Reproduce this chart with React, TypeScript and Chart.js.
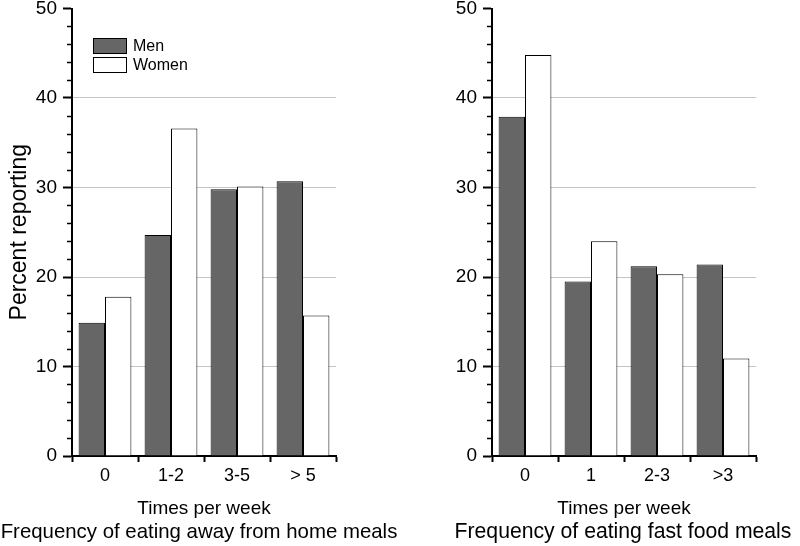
import React, { useEffect, useRef } from "react";
import { Chart, registerables } from "chart.js";

Chart.register(...registerables);

const awayCategories = ["0", "1-2", "3-5", "> 5"];
const awayMen = [14.9, 24.7, 29.8, 30.7];
const awayWomen = [17.8, 36.6, 30.1, 15.7];

const fastCategories = ["0", "1", "2-3", ">3"];
const fastMen = [37.9, 19.5, 21.2, 21.4];
const fastWomen = [44.8, 24.0, 20.3, 10.9];

const seriesLabels = ["Men", "Women"];
const yTicks = [0, 10, 20, 30, 40, 50];
const xTitle = "Times per week";
const leftTitle = "Frequency of eating away from home meals";
const rightTitle = "Frequency of eating fast food meals";
const yTitle = "Percent reporting";

const FONT = "'Liberation Sans', Arial, Helvetica, sans-serif";

const minorTicks = {
  id: "minorTicks",
  afterDraw(chart: any) {
    const s = chart.scales.y;
    const ctx = chart.ctx;
    ctx.save();
    ctx.strokeStyle = "#000";
    ctx.lineWidth = 1.5;
    for (let v = 0; v <= 50; v += 2) {
      if (v % 10 === 0) continue;
      const y = Math.round(s.getPixelForValue(v)) + 0.5;
      ctx.beginPath();
      ctx.moveTo(s.right - 5, y);
      ctx.lineTo(s.right, y);
      ctx.stroke();
    }
    ctx.restore();
  },
};

const subTitle = {
  id: "subTitle",
  afterDraw(chart: any, _args: any, opts: any) {
    if (!opts || !opts.text) return;
    const s = chart.scales.x;
    const ctx = chart.ctx;
    ctx.save();
    ctx.font = opts.size + "px " + FONT;
    ctx.fillStyle = "#000";
    ctx.textAlign = "center";
    ctx.textBaseline = "middle";
    ctx.fillText(opts.text, (s.left + s.right) / 2 + opts.shift, s.bottom - 14);
    ctx.restore();
  },
};

const boxLegend = {
  id: "boxLegend",
  afterDraw(chart: any, _args: any, opts: any) {
    if (!opts || !opts.show) return;
    const ctx = chart.ctx;
    const area = chart.chartArea;
    const x0 = area.left + 21;
    let y0 = area.top + 29.5;
    ctx.save();
    ctx.font = "16px " + FONT;
    ctx.textBaseline = "middle";
    ctx.textAlign = "left";
    chart.data.datasets.forEach((ds: any) => {
      ctx.fillStyle = ds.backgroundColor;
      ctx.fillRect(x0, y0, 34, 16);
      ctx.strokeStyle = "#000";
      ctx.lineWidth = 1;
      ctx.strokeRect(x0 + 0.5, y0 + 0.5, 33, 15);
      ctx.fillStyle = "#000";
      ctx.fillText(ds.label, x0 + 40, y0 + 8.5);
      y0 += 19;
    });
    ctx.restore();
  },
};

function makeConfig(
  cats: string[],
  men: number[],
  women: number[],
  title: string,
  isLeft: boolean
): any {
  return {
    type: "bar",
    data: {
      labels: cats,
      datasets: [
        {
          label: seriesLabels[0],
          data: men,
          backgroundColor: "#666666",
          borderColor: "#000",
          borderWidth: 1,
          categoryPercentage: 0.8,
          barPercentage: 1.0,
        },
        {
          label: seriesLabels[1],
          data: women,
          backgroundColor: "#ffffff",
          borderColor: "#000",
          borderWidth: 1,
          categoryPercentage: 0.8,
          barPercentage: 1.0,
        },
      ],
    },
    options: {
      animation: false,
      responsive: false,
      maintainAspectRatio: false,
      layout: {
        padding: { left: 0, top: 8.5, right: isLeft ? 64 : 44, bottom: 0 },
      },
      plugins: {
        legend: { display: false },
        tooltip: { enabled: false },
        title: { display: false },
        boxLegend: { show: isLeft },
        subTitle: {
          text: title,
          shift: isLeft ? -5 : -1,
          size: isLeft ? 20.4 : 21.2,
        },
      },
      scales: {
        x: {
          type: "category",
          offset: true,
          grid: {
            offset: true,
            drawOnChartArea: false,
            drawTicks: true,
            tickLength: 6,
            tickColor: "#000",
            tickWidth: 2,
          },
          border: { display: true, color: "#000", width: 2 },
          ticks: {
            color: "#000",
            font: { family: FONT, size: 18, lineHeight: 1.2 },
            padding: 3,
          },
          title: {
            display: true,
            text: xTitle,
            color: "#000",
            font: { family: FONT, size: 19, lineHeight: 1.2 },
            padding: { top: 0, bottom: 26 },
          },
          afterFit(scale: any) {
            scale.height = 90;
            scale.paddingLeft = 0;
            scale.paddingRight = 0;
          },
        },
        y: {
          type: "linear",
          min: 0,
          max: 50,
          afterBuildTicks(scale: any) {
            scale.ticks = yTicks.map((v) => ({ value: v }));
          },
          grid: {
            color: (c: any) =>
              c.tick && c.tick.value > 0 && c.tick.value < 50
                ? "#c4c4c4"
                : "rgba(0,0,0,0)",
            lineWidth: 1,
            tickColor: "#000",
            tickWidth: 2,
            tickLength: 9,
            drawTicks: true,
          },
          border: { display: true, color: "#000", width: 2 },
          ticks: {
            color: "#000",
            font: { family: FONT, size: 19, lineHeight: 1.2 },
            padding: 6,
          },
          title: {
            display: isLeft,
            text: yTitle,
            color: "#000",
            font: { family: FONT, size: 23, lineHeight: 1.2 },
            padding: { top: 6, bottom: 0 },
          },
          afterFit(scale: any) {
            scale.width = isLeft ? 72 : 92;
            scale.paddingTop = 0;
            scale.paddingBottom = 0;
          },
        },
      },
    },
    plugins: [minorTicks, boxLegend, subTitle],
  };
}

export default function App() {
  const leftRef = useRef<HTMLCanvasElement>(null);
  const rightRef = useRef<HTMLCanvasElement>(null);

  useEffect(() => {
    const c1 = new Chart(
      leftRef.current as HTMLCanvasElement,
      makeConfig(awayCategories, awayMen, awayWomen, leftTitle, true)
    );
    const c2 = new Chart(
      rightRef.current as HTMLCanvasElement,
      makeConfig(fastCategories, fastMen, fastWomen, rightTitle, false)
    );
    return () => {
      c1.destroy();
      c2.destroy();
    };
  }, []);

  return (
    <div
      style={{
        position: "fixed",
        left: 0,
        top: 0,
        width: 800,
        height: 546,
        background: "#fff",
      }}
    >
      <canvas
        ref={leftRef}
        width={400}
        height={546}
        style={{ position: "absolute", left: 0, top: 0, width: 400, height: 546 }}
      />
      <canvas
        ref={rightRef}
        width={400}
        height={546}
        style={{ position: "absolute", left: 400, top: 0, width: 400, height: 546 }}
      />
    </div>
  );
}
